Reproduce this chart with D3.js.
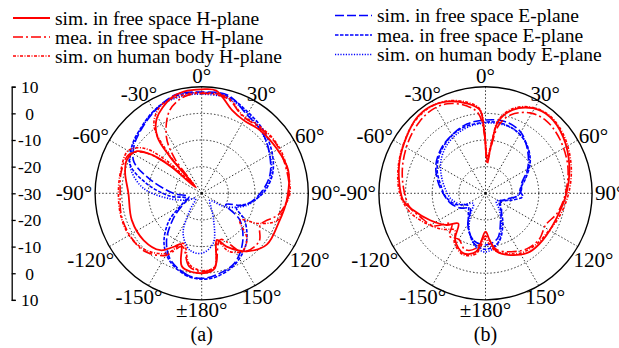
<!DOCTYPE html>
<html>
<head>
<meta charset="utf-8">
<script src="https://cdn.jsdelivr.net/npm/d3@7"></script>
<style>
  body { margin: 0; background: #fff; }
  svg { display: block; }
  svg text { font-family: "Liberation Serif", "DejaVu Serif", "Noto Serif", "Times New Roman", Times, serif; fill: #000; }
</style>
</head>
<body>
<svg id="chart" width="619" height="348" font-family="Liberation Serif, DejaVu Serif, serif"></svg>
<script>
// angular grid
const angleTicks = [0, 30, 60, 90, 120, 150, 180, -150, -120, -90, -60, -30];
const angleLabels = ["0°", "30°", "60°", "90°", "120°", "150°", "±180°", "-150°", "-120°", "-90°", "-60°", "-30°"];
const ringValues = [0, -10, -20];
const axisLabels = ["10", "0", "-10", "-20", "-30", "-20", "-10", "0", "10"];
const legendNames = [
  "sim. in free space H-plane", "mea. in free space H-plane", "sim. on human body H-plane",
  "sim. in free space E-plane", "mea. in free space E-plane", "sim. on human body E-plane"
];

// (a) patterns, [angle deg, gain dB]
const aSimFreeH = [[-180,0],[-165,-1.5],[-158,-9.4],[-153,-7.6],[-144,-3.6],[-129,-2],[-111,-1.9],[-90,-2.5],[-75,-0.25],[-66,0.75],[-57,-1],[-52,-6.9],[-49,-15],[-45,-27],[-41,-11.9],[-38,-2.9],[-31,2.75],[-18,7.5],[-10,8.75],[0,9],[8,8.9],[20,3.25],[30,1.6],[43,2.25],[59,2.75],[75,3.6],[95,2],[111,0.9],[128,1.1],[142,-2.4],[155,-7.9],[162,-11.6],[170,-1.5]];
const aMeaFreeH = [[-180,-0.6],[-170,-2.25],[-160,-8.75],[-150,-3.1],[-135,0.6],[-120,1.25],[-105,1.25],[-90,0.6],[-75,1.25],[-62,1],[-55,-3.1],[-50,-11.25],[-46,-22.5],[-42,-25],[-38,-13.75],[-32,-5],[-21,3.4],[-10,6.9],[0,7.5],[15,6.9],[28,2.75],[40,2.75],[55,3.5],[70,3.1],[90,2.75],[105,0],[118,-5],[130,-1.9],[145,-3.1],[158,-11.25],[170,-1.9]];
const aBodyH = [[-180,-1],[-170,-3],[-160,-10],[-150,-4],[-135,0],[-120,1.5],[-105,1.5],[-90,1.25],[-75,1.5],[-60,1.9],[-52,-2.5],[-47,-12.5],[-43,-26],[-40,-11],[-35,1.25],[-25,6.25],[-12,7.5],[0,7.8],[15,7.3],[28,3],[40,3.2],[55,3.8],[70,3.5],[90,3.1],[100,1.25],[110,0],[118,-5.9],[125,-12.5],[135,-6],[145,-3.5],[155,-6],[162,-11],[170,-2]];
const aSimFreeE = [[-180,1.9],[-170,1.1],[-155,-2.4],[-143,-8.1],[-130,-16.75],[-115,-23.75],[-105,-25],[-90,-19.4],[-75,-10],[-65,-1.9],[-55,1],[-45,2.75],[-30,5.5],[-15,8.25],[0,8],[15,8.1],[30,4],[45,2.25],[60,-0.6],[75,-3.5],[90,-8],[105,-13],[115,-20],[125,-12.5],[140,-6.1],[155,-1],[170,1.1]];
const aMeaFreeE = [[-180,2.2],[-170,1.5],[-155,-1.8],[-143,-6.5],[-130,-14],[-118,-22],[-108,-24],[-95,-18],[-80,-9],[-68,-1],[-55,1.8],[-45,3.2],[-30,5.8],[-15,7.8],[0,7.8],[15,7.6],[30,5],[45,3],[60,0.5],[75,-2.5],[90,-7],[102,-12],[112,-16],[122,-11],[138,-5],[155,-0.5],[170,1.8]];
const aBodyE = [[-180,-7.5],[-168,-8.25],[-155,-13.5],[-145,-22.4],[-130,-27],[-115,-24],[-100,-18],[-85,-8],[-70,-1.5],[-55,1.5],[-40,3.8],[-25,6.5],[-10,7.2],[0,7.2],[15,7],[30,4.5],[45,2],[60,-0.5],[75,-3],[90,-7.5],[105,-12.5],[120,-20],[132,-26],[145,-24],[156,-19],[167,-10.75]];

// (b) patterns
const bSimFreeH = [[-180,-15.6],[-171,-7.9],[-160,-6],[-147,-9.1],[-138,-14.75],[-129,-11.1],[-116,-6.9],[-103,-2.1],[-95,1],[-83,2.6],[-69,4.5],[-54,6.5],[-43,8.25],[-33,8.6],[-23,7.4],[-12,4.5],[-4,1.4],[-1,-7.5],[3,-17.5],[7,-11],[10,-2.75],[18,2.9],[29,6.5],[40,7.5],[54,6],[72,3.1],[90,0.4],[109,-1.75],[129,-2.25],[143,-2.5],[156,-4.6],[169,-7.75],[175,-12.4]];
const bMeaFreeH = [[-180,-14],[-170,-9],[-160,-7.5],[-150,-10],[-140,-9],[-132,-13],[-122,-7],[-110,-4],[-100,-1],[-85,1],[-70,3],[-55,5],[-43,6.5],[-33,7.2],[-23,6.5],[-12,3.5],[-5,0],[-1,-8],[3,-19],[7,-12],[11,-4],[18,1],[29,4.5],[40,5.5],[54,4.5],[72,2.5],[90,0],[105,-2],[118,-4.5],[130,-3.5],[143,-4],[156,-6],[169,-8.5],[175,-12]];
const bBodyH = [[-180,-13],[-171,-7],[-160,-5.5],[-148,-8],[-140,-12],[-130,-9],[-117,-5],[-103,-0.5],[-90,2.2],[-75,4],[-60,5.8],[-45,7.8],[-33,8.4],[-23,7.6],[-12,5],[-4,1.8],[-1,-6],[3,-16],[7,-10],[10,-2],[18,3.5],[29,6.8],[40,7.8],[54,6.5],[72,3.8],[90,1.2],[108,-1],[122,-2.5],[135,-3],[150,-4],[160,-6],[170,-8],[176,-11]];
const bSimFreeE = [[-180,-10.6],[-165,-11.9],[-150,-16.75],[-135,-21.9],[-120,-19],[-105,-16.25],[-90,-14.1],[-75,-11.4],[-60,-8.5],[-45,-6.4],[-30,-4.75],[-15,-3.1],[0,-2.5],[15,-2.1],[30,-3.5],[45,-7.6],[60,-11.75],[75,-16],[85,-16.5],[95,-18],[105,-21.75],[120,-23.5],[135,-21.5],[150,-18.6],[165,-12.5]];
const bMeaFreeE = [[-180,-9],[-168,-10.5],[-155,-15],[-140,-20],[-125,-22],[-110,-18],[-95,-15],[-80,-13],[-65,-10],[-50,-7.5],[-35,-5.5],[-20,-4],[-5,-3.5],[10,-3],[25,-3.8],[40,-6],[55,-9.5],[70,-14],[85,-17],[95,-16],[105,-20],[120,-24],[135,-22],[150,-17],[165,-11]];
const bBodyE = [[-180,-8],[-170,-9.5],[-158,-14],[-145,-20],[-130,-24],[-115,-20],[-100,-17],[-85,-15],[-70,-12.5],[-55,-9.5],[-40,-7],[-25,-5.2],[-10,-4],[5,-3.5],[20,-3.5],[35,-5],[50,-8.5],[65,-13],[80,-16.5],[92,-17.5],[110,-22],[125,-25],[140,-22],[155,-16],[168,-10]];

const svg = d3.select("#chart");
const R = 106.6;
const cy = 193.3;
const rScale = d3.scaleLinear().domain([-30, 10]).range([0, R]).clamp(true);
const rad = d => d * Math.PI / 180;

// line look for each series, same order as legendNames
const styles = [
  { color: "#ff0000", dash: null, w: 1.8 },
  { color: "#ff0000", dash: "10,3,2,3", w: 1.6 },
  { color: "#ff0000", dash: "3,1.5,1,1.5", w: 1.6 },
  { color: "#0000ff", dash: "9,3", w: 1.6 },
  { color: "#0000ff", dash: "3.5,1.5", w: 1.6 },
  { color: "#0000ff", dash: "1.2,1.5", w: 1.6 }
];

const radial = d3.lineRadial()
  .angle(d => rad(d[0]))
  .radius(d => rScale(d[1]))
  .curve(d3.curveCatmullRomClosed.alpha(0.5));

// where an angle label goes (sides hug the circle, others sit a bit lower)
function labelPos(d, label) {
  const t = rad(d), s = Math.sin(t), c = Math.cos(t);
  if (Math.abs(s) > 0.99) return { x: s * (R + 3), y: 0, anchor: s > 0 ? "start" : "end" };
  const rc = R + 10.5 + 10 * s * s;
  const shift = label.startsWith("-") ? -3 : 0;
  const dy = (Math.abs(s) > 0.1 && c > -0.7) ? 4.5 : 0;
  return { x: rc * s + shift, y: -rc * c + dy, anchor: "middle" };
}

function drawPanel(cx, curves, tag) {
  const g = svg.append("g").attr("transform", `translate(${cx},${cy})`);

  g.selectAll("circle.ring").data(ringValues).join("circle")
    .attr("class", "ring")
    .attr("r", d => rScale(d))
    .attr("fill", "none").attr("stroke", "#000")
    .attr("stroke-width", 0.8).attr("stroke-dasharray", "1.5,2");

  g.selectAll("line.spoke").data(angleTicks).join("line")
    .attr("class", "spoke")
    .attr("x2", d => R * Math.sin(rad(d)))
    .attr("y2", d => -R * Math.cos(rad(d)))
    .attr("stroke", "#000").attr("stroke-width", 0.8).attr("stroke-dasharray", "1.5,2");

  // blue first, red on top
  [3, 4, 5, 0, 1, 2].forEach(i => {
    const pts = curves[i].slice().sort((a, b) => a[0] - b[0]);
    g.append("path")
      .attr("d", radial(pts))
      .attr("fill", "none")
      .attr("stroke", styles[i].color)
      .attr("stroke-width", styles[i].w)
      .attr("stroke-dasharray", styles[i].dash)
      .attr("stroke-linejoin", "round");
  });

  g.append("circle").attr("r", R)
    .attr("fill", "none").attr("stroke", "#000").attr("stroke-width", 1.4);

  g.selectAll("text.alab").data(angleTicks).join("text")
    .attr("class", "alab")
    .each(function (d, i) {
      const p = labelPos(d, angleLabels[i]);
      d3.select(this).attr("x", p.x).attr("y", p.y).attr("text-anchor", p.anchor);
    })
    .attr("dominant-baseline", "central")
    .attr("font-size", 21)
    .text((d, i) => angleLabels[i]);

  g.append("text")
    .attr("y", 148)
    .attr("text-anchor", "middle")
    .attr("font-size", 20)
    .text(tag);
}

drawPanel(201.7, [aSimFreeH, aMeaFreeH, aBodyH, aSimFreeE, aMeaFreeE, aBodyE], "(a)");
drawPanel(485.5, [bSimFreeH, bMeaFreeH, bBodyH, bSimFreeE, bMeaFreeE, bBodyE], "(b)");

// dB bracket axis on the left
const axisY = d3.scalePoint().domain(d3.range(axisLabels.length)).range([cy - R, cy + R]);
const ax = svg.append("g")
  .attr("transform", "translate(11.7,0)")
  .call(d3.axisRight(axisY).tickSize(4).tickFormat(i => axisLabels[i]));
ax.attr("font-family", null).attr("font-size", null);
ax.selectAll("path, line").attr("stroke", "#000").attr("stroke-width", 1.3);
ax.selectAll("text")
  .attr("x", 18).attr("dy", "0.34em")
  .attr("text-anchor", "middle")
  .attr("font-size", 17.5);

// legend
const legendPos = [
  { lx: 13, tx: 55, y: 24.5 }, { lx: 13, tx: 55, y: 43.5 }, { lx: 13, tx: 55, y: 62.5 },
  { lx: 335, tx: 377, y: 22 }, { lx: 335, tx: 377, y: 41.5 }, { lx: 335, tx: 377, y: 61 }
];
const leg = svg.append("g");
legendNames.forEach((name, i) => {
  const p = legendPos[i];
  leg.append("line")
    .attr("x1", p.lx).attr("x2", p.lx + 37)
    .attr("y1", p.y - 6.5).attr("y2", p.y - 6.5)
    .attr("stroke", styles[i].color)
    .attr("stroke-width", styles[i].w)
    .attr("stroke-dasharray", styles[i].dash);
  leg.append("text")
    .attr("x", p.tx).attr("y", p.y)
    .attr("font-size", 19.5)
    .text(name);
});
</script>
</body>
</html>
